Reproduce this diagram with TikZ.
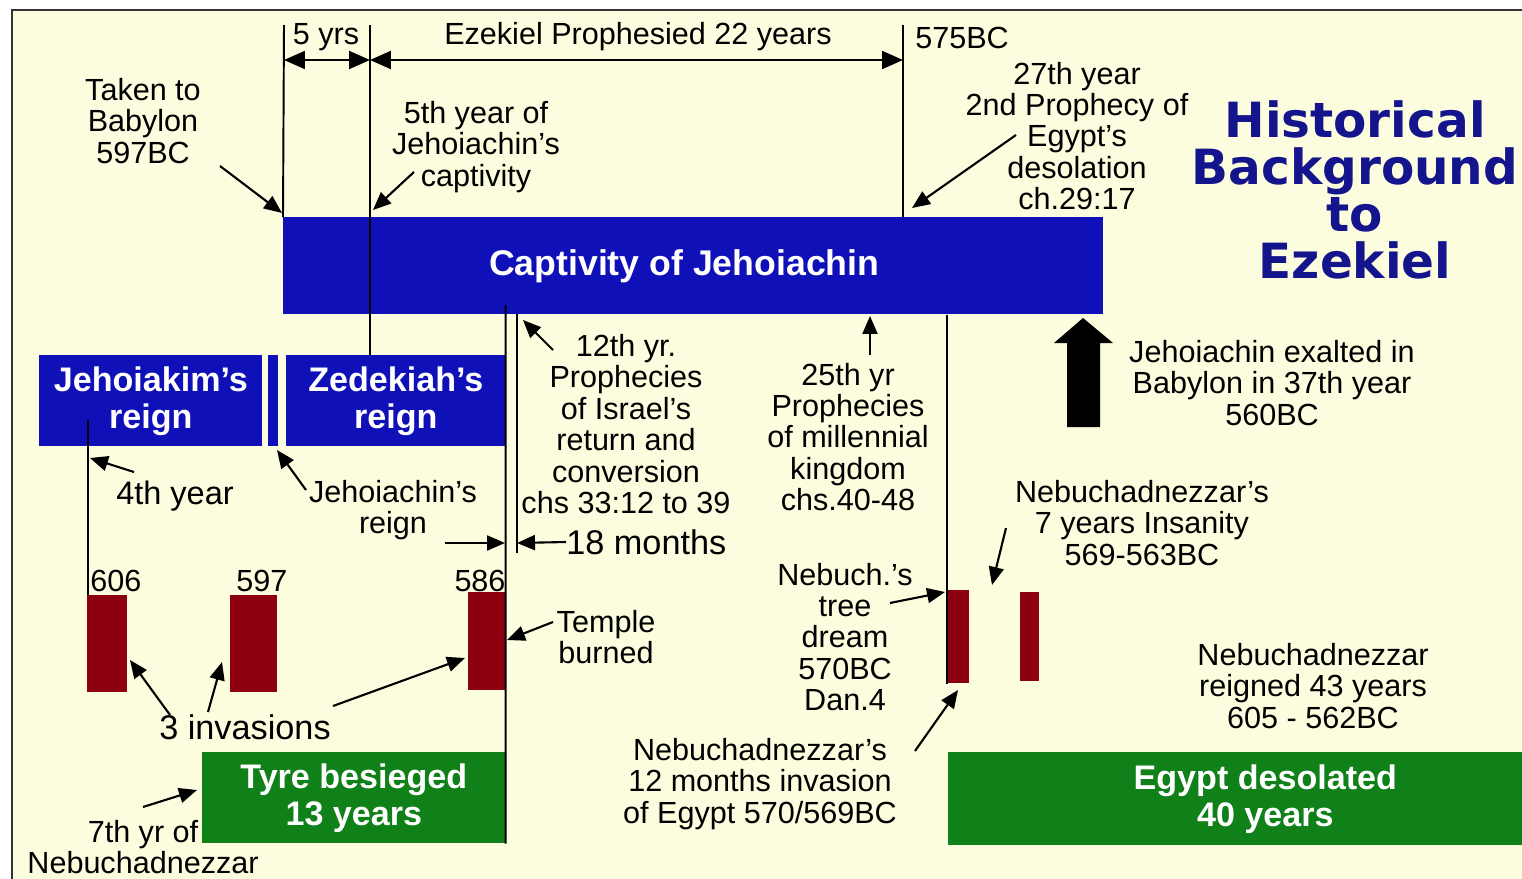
\documentclass[tikz,border=0pt]{standalone}
\usepackage{fontspec}
\setmainfont{Liberation Sans}
\newfontfamily\titlefont{DejaVu Sans}
\usepackage{xcolor}
\usetikzlibrary{arrows.meta,positioning}

\definecolor{cream}{RGB}{252,252,222}
\definecolor{barblue}{RGB}{16,16,184}
\definecolor{titleblue}{RGB}{20,20,140}
\definecolor{tyregreen}{RGB}{16,128,24}
\definecolor{invred}{RGB}{140,0,16}

\begin{document}
\begin{tikzpicture}[
    x=0.02cm, y=-0.02cm,
    note/.style={align=center, inner sep=0pt, font=\fontsize{17.4}{17.9}\selectfont},
    bignote/.style={note, font=\fontsize{19.5}{20}\selectfont},
    bar/.style={rectangle, fill=barblue, anchor=north west, inner sep=0pt, text=white, align=center,
        font=\bfseries\fontsize{19.4}{21}\selectfont},
    greenbar/.style={bar, fill=tyregreen},
    invasion/.style={rectangle, fill=invred, anchor=north west, inner sep=0pt},
    tick/.style={line width=1.1pt},
    pointer/.style={-{Triangle[length=0.36cm, width=0.3cm]}, line width=1.2pt},
    span/.style={{Triangle[length=0.42cm, width=0.36cm]}-{Triangle[length=0.42cm, width=0.36cm]}, line width=1.2pt}
]
    \useasboundingbox (0,0) rectangle (1522,879);
    \clip (0,0) rectangle (1522,879);
    \fill[white] (0,0) rectangle (1522,879);
    \fill[cream] (12,10) rectangle (1530,890);
    \draw[black!80, line width=1pt] (12,890) -- (12,10) -- (1530,10);

    % bars
    \node[bar, minimum width=16.4cm, minimum height=1.94cm, font=\bfseries\fontsize{20.3}{21}\selectfont]
        (capt) at (283,217) {Captivity of Jehoiachin\hspace*{0.36cm}};
    \node[bar, minimum width=4.46cm, minimum height=1.82cm] (jkim) at (39,355) {Jehoiakim's\\reign};
    \node[bar, minimum width=0.2cm, minimum height=1.82cm] (jchin) at (268,355) {};
    \node[bar, minimum width=4.38cm, minimum height=1.82cm] (zed) at (286,355) {Zedekiah's\\reign};
    \node[greenbar, minimum width=6.06cm, minimum height=1.82cm] (tyre) at (202,752) {Tyre besieged\\13 years};
    \node[greenbar, minimum width=12.68cm, minimum height=1.86cm] (egypt) at (948,752) {Egypt desolated\\40 years};

    \node[invasion, minimum width=0.8cm, minimum height=1.94cm] (r606) at (87,595) {};
    \node[invasion, minimum width=0.94cm, minimum height=1.94cm] (r597) at (230,595) {};
    \node[invasion, minimum width=0.74cm, minimum height=1.96cm] (r586) at (468,592) {};
    \node[invasion, minimum width=0.44cm, minimum height=1.86cm] (r570) at (947,590) {};
    \node[invasion, minimum width=0.38cm, minimum height=1.78cm] (r563) at (1020,592) {};

    % timeline
    \coordinate (t597) at (284,25);
    \coordinate (t592) at (370,25);
    \coordinate (t575) at (903,25);
    \coordinate (t4th) at (88,420);
    \coordinate (t18) at (517,314);
    \draw[tick] (t597) -- (capt.north west);
    \draw[tick] (t592) -- (t592 |- zed.north);
    \draw[tick] (t575) -- (t575 |- capt.north);
    \draw[tick] (zed.east |- 0,305) -- (tyre.south east);
    \draw[tick] (t18) -- (517,553);
    \draw[tick] (r570.west |- capt.south) -- (r570.south west);
    \draw[tick] (t4th) -- (t4th |- r606.north);

    \draw[span] (284,60) -- (370,60);
    \draw[span] (370,60) -- (903,60);
    \node[note] (n5yrs) at (326,37) {5 yrs};
    \node[note] (nprop) at (638,37) {Ezekiel Prophesied 22 years};
    \node[note] (n575) at (962,38) {575BC};

    % notes
    \node[note] (ntaken) at (143,121) {Taken to\\Babylon\\597BC};
    \draw[pointer] (220,166) -- (282,213);
    \node[note] (nfifth) at (476,147) {5th year of\\Jehoiachin's\\captivity};
    \draw[pointer] (414,172) -- (373,210);
    \node[note] (n27) at (1077,136) {27th year\\2nd Prophecy of\\Egypt's\\desolation\\ch.29:17};
    \draw[pointer] (1016,135) -- (912,208);
    \node[align=center, inner sep=0pt, text=titleblue, font=\titlefont\bfseries\fontsize{27.6}{26.7}\selectfont]
        (ntitle) at (1355,190) {Historical\\Background\\to\\Ezekiel};

    \node[note] (n12th) at (626,424) {12th yr.\\Prophecies\\of Israel's\\return and\\conversion\\chs 33:12 to 39};
    \draw[pointer] (553,350) -- (523,320);
    \node[bignote, anchor=west] (n18) at (566,542) {18 months};
    \draw[pointer] (445,543) -- (505,543);
    \draw[pointer] (n18.west) -- (517,543);
    \node[note] (n25) at (848,437) {25th yr\\Prophecies\\of millennial\\kingdom\\chs.40-48};
    \draw[pointer] (870,355) -- (870,316);
    \fill (1083,318) -- (1113,343) -- (1100,343) -- (1100,427) -- (1067,427) -- (1067,343) -- (1054,343) -- cycle;
    \node[note] (nexalt) at (1272,383) {Jehoiachin exalted in\\Babylon in 37th year\\560BC};

    \node[note, font=\fontsize{18.5}{19}\selectfont] (n4th) at (175,496) {4th year};
    \draw[pointer] (134,472) -- (90,458);
    \node[note] (njchin) at (393,510) {Jehoiachin's\\reign};
    \draw[pointer] (306,490) -- (277,450);

    \node[note, anchor=west] (n606) at (90,581) {606};
    \node[note] (n597) at (262,581) {597};
    \node[note] (n586) at (480,581) {586};
    \node[note] (ntemple) at (606,637) {Temple\\burned};
    \draw[pointer] (553,622) -- (507,640);
    \node[bignote] (n3inv) at (245,727) {3 invasions};
    \draw[pointer] (170,715) -- (130,660);
    \draw[pointer] (208,712) -- (222,662);
    \draw[pointer] (333,706) -- (465,658);
    \node[note] (n7thyr) at (143,847) {7th yr of\\Nebuchadnezzar};
    \draw[pointer] (143,807) -- (197,790);

    \node[note] (ninsane) at (1142,523) {Nebuchadnezzar's\\7 years Insanity\\569-563BC};
    \draw[pointer] (1006,528) -- (992,585);
    \node[note] (ntree) at (845,637) {Nebuch.'s\\tree\\dream\\570BC\\Dan.4};
    \draw[pointer] (890,603) -- (945,592);
    \node[note] (nmonths) at (760,784) {Nebuchadnezzar's\\12 months invasion\\of Egypt 570/569BC};
    \draw[pointer] (915,751) -- (958,690);
    \node[note] (nreign) at (1313,686) {Nebuchadnezzar\\reigned 43 years\\605 - 562BC};
\end{tikzpicture}
\end{document}
